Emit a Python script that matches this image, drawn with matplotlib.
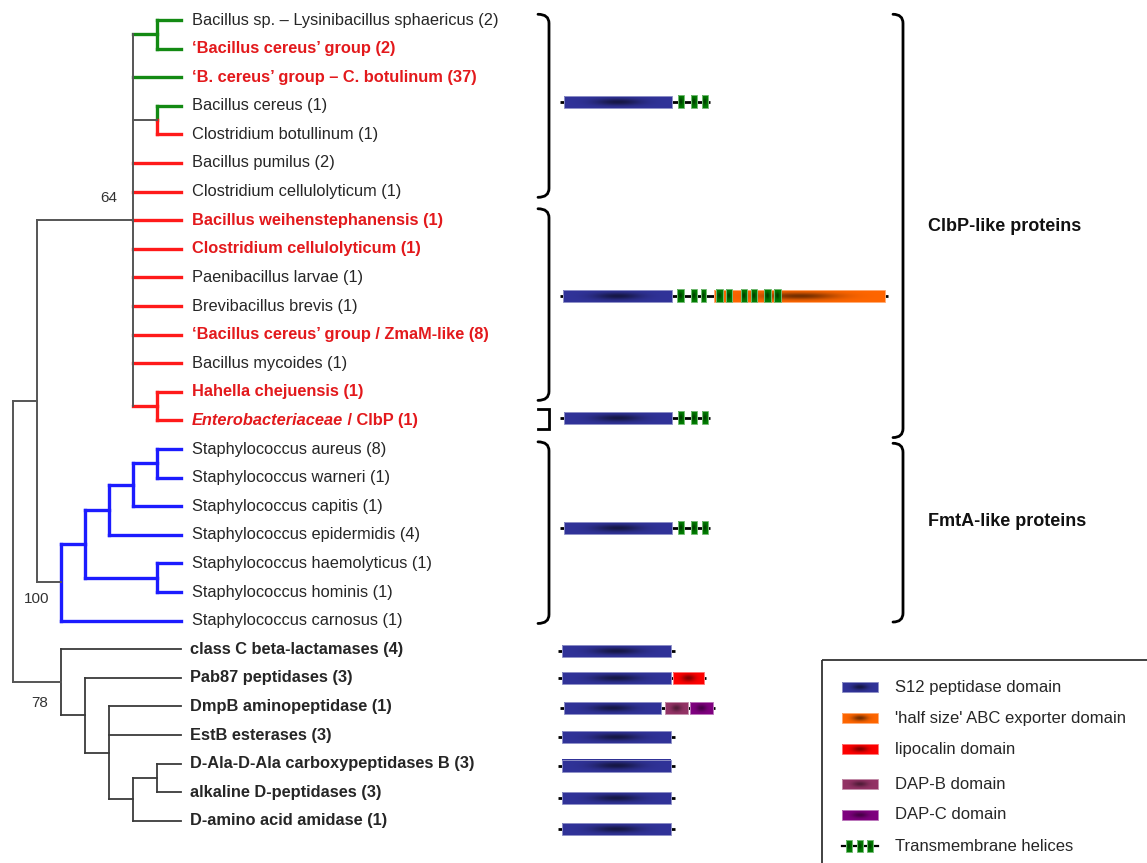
import numpy as np
import matplotlib
matplotlib.use("Agg")
import matplotlib.pyplot as plt
from matplotlib.patches import Rectangle, PathPatch
from matplotlib.path import Path

plt.rcParams['font.family'] = ['Liberation Sans', 'DejaVu Sans']

# ---------------- DATA ----------------
leaf_labels = [
    "Bacillus sp. \u2013 Lysinibacillus sphaericus (2)",
    "\u2018Bacillus cereus\u2019 group (2)",
    "\u2018B. cereus\u2019 group \u2013 C. botulinum (37)",
    "Bacillus cereus (1)",
    "Clostridium botullinum (1)",
    "Bacillus pumilus (2)",
    "Clostridium cellulolyticum (1)",
    "Bacillus weihenstephanensis (1)",
    "Clostridium cellulolyticum (1)",
    "Paenibacillus larvae (1)",
    "Brevibacillus brevis (1)",
    "\u2018Bacillus cereus\u2019 group / ZmaM-like (8)",
    "Bacillus mycoides (1)",
    "Hahella chejuensis (1)",
    "Enterobacteriaceae",
    "Staphylococcus aureus (8)",
    "Staphylococcus warneri (1)",
    "Staphylococcus capitis (1)",
    "Staphylococcus epidermidis (4)",
    "Staphylococcus haemolyticus (1)",
    "Staphylococcus hominis (1)",
    "Staphylococcus carnosus (1)",
    "class C beta-lactamases (4)",
    "Pab87 peptidases (3)",
    "DmpB aminopeptidase (1)",
    "EstB esterases (3)",
    "D-Ala-D-Ala carboxypeptidases B (3)",
    "alkaline D-peptidases (3)",
    "D-amino acid amidase (1)",
]
label_suffix = {14: " / ClbP (1)"}
label_italic = {14}
label_is_red = [0, 1, 1, 0, 0, 0, 0, 1, 1, 0, 0, 1, 0, 1, 1] + [0] * 14
label_is_bold = [0, 1, 1, 0, 0, 0, 0, 1, 1, 0, 0, 1, 0, 1, 1] + [0] * 7 + [1] * 7
# branch group of each leaf: g=green, r=red, b=blue, k=black
leaf_branch = ['g', 'g', 'g', 'g', 'r'] + ['r'] * 10 + ['b'] * 7 + ['k'] * 7

# tree: (depth level, children, edge colour key, vertical colour key or 'split', bootstrap)
def N(level, kids, edge, vert=None, boot=None):
    return dict(level=level, kids=kids, edge=edge, vert=vert if vert else edge, boot=boot)

clbp = N(5, [N(6, [0, 1], 'g'), 2, N(6, [3, 4], 'gray', 'split'),
             5, 6, 7, 8, 9, 10, 11, 12, N(6, [13, 14], 'r')], 'gray', 'gray', boot='64')
staph = N(2, [N(3, [N(4, [N(5, [N(6, [15, 16], 'b'), 17], 'b'), 18], 'b'),
                    N(6, [19, 20], 'b')], 'b'), 21], 'gray', 'b', boot='100')
lower = N(2, [22, N(3, [23, N(4, [24, 25, N(5, [N(6, [26, 27], 'k'), 28], 'k')], 'k')], 'k')],
          'gray', 'k', boot='78')
root = N(0, [N(1, [clbp, staph], 'gray'), lower], None, 'gray')

# domain architectures: (domain, start, end) in sequence-length units; backbone length
arch_short = dict(length=150, doms=[('S12', 4, 112), ('TM', 118, 124), ('TM', 131, 137), ('TM', 142, 148)])
arch_long = dict(length=328, doms=[('S12', 3, 112), ('TM', 117, 124), ('TM', 131, 137), ('TM', 141, 146),
                                   ('ABC', 154, 325),
                                   ('TM', 156, 163), ('TM', 166, 172), ('TM', 181, 187),
                                   ('TM', 191, 197), ('TM', 204, 211), ('TM', 214, 221)])
arch_s12 = dict(length=117, doms=[('S12', 4, 113)])
arch_pab = dict(length=148, doms=[('S12', 4, 113), ('LIPO', 115, 146)])
arch_dmp = dict(length=155, doms=[('S12', 4, 101), ('DAPB', 105, 128), ('DAPC', 130, 153)])

# rows (in leaf units) at which each architecture is shown
diagram_rows = [2.85, 9.65, 13.9, 17.75, 22.06, 23.0, 24.06, 25.07, 26.08, 27.2, 28.3]
diagram_arch = [arch_short, arch_long, arch_short, arch_short, arch_s12, arch_pab, arch_dmp,
                arch_s12, arch_s12, arch_s12, arch_s12]

legend_keys = ['S12', 'ABC', 'LIPO', 'DAPB', 'DAPC', 'TM']
legend_labels = ["S12 peptidase domain", "'half size' ABC exporter domain", "lipocalin domain",
                 "DAP-B domain", "DAP-C domain", "Transmembrane helices"]

group_labels = ["ClbP-like proteins", "FmtA-like proteins"]

# ---------------- STYLE / LAYOUT ----------------
W, H = 1147, 863
fig = plt.figure(figsize=(W / 100, H / 100), dpi=100)
ax = fig.add_axes([0, 0, 1, 1])
ax.set_axis_off()
ax.set_xlim(0, W)
ax.set_ylim(H, 0)
ax.set_autoscale_on(False)

Y0, DY = 20.0, 28.6
X0, DX = 13.0, 24.0
TIP_LEVEL = 7
FS = 11.8

def leaf_y(i):
    return Y0 + DY * i

def lvl_x(l):
    return X0 + DX * l

line_col = {'g': '#138a13', 'r': '#ff1a1a', 'b': '#1c1cff', 'k': '#3a3a3a', 'gray': '#555555'}
line_w = {'g': 2.4, 'r': 2.4, 'b': 2.4, 'k': 1.3, 'gray': 1.4}

def seg(x0, y0, x1, y1, key):
    ax.plot([x0, x1], [y0, y1], color=line_col[key], lw=line_w[key],
            solid_capstyle='projecting', zorder=2)

def edge_key(k):
    return leaf_branch[k] if isinstance(k, int) else k['edge']

def level_of(k):
    return TIP_LEVEL if isinstance(k, int) else k['level']

boot_pos = {}

def draw(node):
    if isinstance(node, int):
        return leaf_y(node)
    ys = [draw(k) for k in node['kids']]
    x = lvl_x(node['level'])
    y = (min(ys) + max(ys)) / 2
    for k, yk in zip(node['kids'], ys):
        seg(x, yk, lvl_x(level_of(k)), yk, edge_key(k))
    if node['vert'] == 'split':
        for k, yk in zip(node['kids'], ys):
            seg(x, y, x, yk, edge_key(k))
    else:
        seg(x, min(ys), x, max(ys), node['vert'])
    if node['boot']:
        boot_pos[node['boot']] = (x, y)
    return y

draw(root)

# bootstrap labels
boot_off = {'64': (-24, -22), '100': (-24, 17), '78': (-21, 21)}
for b, (x, y) in boot_pos.items():
    dx, dy = boot_off[b]
    ax.text(x + dx, y + dy, b, ha='center', va='center', fontsize=11, color='#333333')

# leaf labels
RED_TXT = '#e3191c'
TXT = '#262626'
LX = 192
fig.canvas.draw()
renderer = fig.canvas.get_renderer()
for i, lab in enumerate(leaf_labels):
    col = RED_TXT if label_is_red[i] else TXT
    wt = 'bold' if label_is_bold[i] else 'normal'
    x = LX if i < 22 else LX - 2
    t = ax.text(x, leaf_y(i), lab, ha='left', va='center', fontsize=FS, color=col,
                fontweight=wt, fontstyle='italic' if i in label_italic else 'normal')
    if i in label_suffix:
        bb = t.get_window_extent(renderer)
        xr = ax.transData.inverted().transform((bb.x1, bb.y0))[0]
        ax.text(xr, leaf_y(i), label_suffix[i], ha='left', va='center', fontsize=FS,
                color=col, fontweight=wt)

# domain drawing
dom_rgb = {'S12': (0.19, 0.20, 0.60), 'ABC': (1.0, 0.40, 0.0), 'LIPO': (1.0, 0.0, 0.0),
           'DAPB': (0.58, 0.20, 0.40), 'DAPC': (0.50, 0.0, 0.50), 'TM': (0.0, 0.50, 0.0)}
dom_h = {'S12': 12, 'ABC': 12, 'LIPO': 12, 'DAPB': 12, 'DAPC': 12, 'TM': 13}
dom_dark = {'S12': 0.55, 'ABC': 0.55, 'LIPO': 0.5, 'DAPB': 0.45, 'DAPC': 0.45, 'TM': 0.55}

def shaded_box(x0, x1, yc, h, rgb, dark, z=3):
    nx, ny = 80, 16
    u = np.linspace(0, 1, nx)
    v = np.linspace(0, 1, ny)
    U, V = np.meshgrid(u, v)
    width_u = 0.22 if x1 - x0 > 20 else 0.3
    d = dark * np.exp(-((U - 0.5) / width_u) ** 2) * np.exp(-((V - 0.5) / 0.3) ** 2)
    img = np.array(rgb)[None, None, :] * (1 - d[..., None])
    ax.imshow(img, extent=(x0, x1, yc + h / 2, yc - h / 2), interpolation='bilinear',
              aspect='auto', zorder=z)
    light = tuple(c + (1 - c) * 0.45 for c in rgb)
    ax.add_patch(Rectangle((x0, yc - h / 2), x1 - x0, h, fill=False, edgecolor=light,
                           lw=0.7, zorder=z + 0.1))

DIAG_X = 560
for row, arch in zip(diagram_rows, diagram_arch):
    y = leaf_y(row)
    x_start = DIAG_X - (2 if arch['length'] < 150 else 0)
    ax.plot([x_start, x_start + arch['length']], [y, y], color='black', lw=2.0,
            solid_capstyle='butt', zorder=2)
    for name, s, e in arch['doms']:
        z = 4 if name == 'TM' else 3
        shaded_box(x_start + s, x_start + e, y, dom_h[name], dom_rgb[name], dom_dark[name], z)

# braces
def brace(x0, x1, y0, y1, r=9):
    verts = [(x0, y0), (x1, y0), (x1, y0 + r), (x1, y1 - r), (x1, y1), (x0, y1)]
    codes = [Path.MOVETO, Path.CURVE3, Path.CURVE3, Path.LINETO, Path.CURVE3, Path.CURVE3]
    ax.add_patch(PathPatch(Path(verts, codes), fill=False, edgecolor='black', lw=2.0,
                           capstyle='round', zorder=2))

def square_bracket(x0, x1, y0, y1):
    ax.plot([x0, x1, x1, x0], [y0, y0, y1, y1], color='black', lw=2.0,
            solid_joinstyle='miter', zorder=2)

brace(538, 549, leaf_y(-0.2), leaf_y(6.2))
brace(538, 549, leaf_y(6.6), leaf_y(13.3))
square_bracket(538, 549, leaf_y(13.6), leaf_y(14.3))
brace(538, 549, leaf_y(14.75), leaf_y(21.1))
brace(893, 903, leaf_y(-0.2), leaf_y(14.6))
brace(893, 903, leaf_y(14.8), leaf_y(21.05))

ax.text(928, 226, group_labels[0], ha='left', va='center', fontsize=13, fontweight='bold',
        color='#111111')
ax.text(928, 521, group_labels[1], ha='left', va='center', fontsize=13, fontweight='bold',
        color='#111111')

# legend
ax.add_patch(Rectangle((822, 660), 400, 300, fill=False, edgecolor='#333333', lw=1.3, zorder=2))
leg_y0, leg_dy = 687, 31.2
leg_rows = [0, 1, 2, 3.12, 4.1, 5.1]
for k, lab, r in zip(legend_keys, legend_labels, leg_rows):
    y = leg_y0 + leg_dy * r
    if k == 'TM':
        ax.plot([842, 878], [y, y], color='black', lw=1.6, zorder=2)
        for s in [(846, 852), (857, 863), (867, 873)]:
            shaded_box(s[0], s[1], y, 12, dom_rgb['TM'], dom_dark['TM'], 4)
    else:
        shaded_box(842, 878, y, 10, dom_rgb[k], dom_dark[k])
    ax.text(895, y, lab, ha='left', va='center', fontsize=12, color=TXT)

ax.set_xlim(0, W)
ax.set_ylim(H, 0)
fig.savefig("out.png", dpi=100, facecolor='white')
